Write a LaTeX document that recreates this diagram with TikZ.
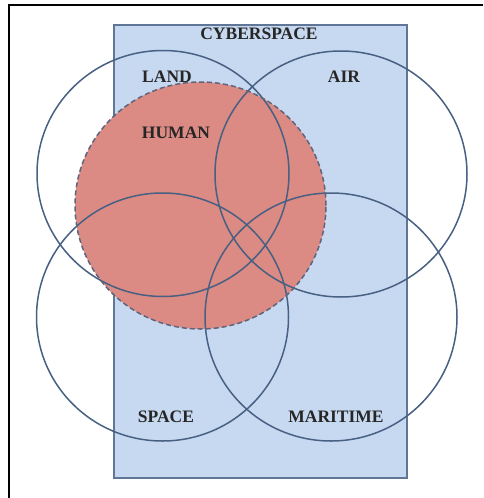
\documentclass[tikz,border=0pt]{standalone}
\usepackage{fontspec}
\setmainfont{Liberation Serif}
\usetikzlibrary{shapes.geometric}
\definecolor{cyberfill}{RGB}{198,217,240}
\definecolor{cyberedge}{RGB}{96,118,150}
\definecolor{ringline}{RGB}{72,96,130}
\definecolor{humanfill}{RGB}{220,138,132}
\definecolor{humanedge}{RGB}{95,100,125}
\tikzset{
  ring/.style={ellipse, draw=ringline, line width=1.5pt, minimum width=252pt, minimum height=246pt, inner sep=0pt},
  lbl/.style={font=\bfseries\fontsize{17.5}{18}\selectfont, text=black!85, inner sep=0pt}
}
\begin{document}
\begin{tikzpicture}[x=1pt,y=-1pt]
\useasboundingbox (0,0) rectangle (483,498);
\coordinate (fbl) at (9,498);
\coordinate (ftl) at (9,4.8);
\coordinate (ftr) at (483,4.8);
\draw[black, line width=2pt] (fbl) -- (ftl) -- (ftr);
\node[draw=cyberedge, fill=cyberfill, line width=1.4pt, minimum width=293pt, minimum height=453pt, inner sep=0pt] (cyber) at (260.5,251.5) {};
\node[ellipse, fill=humanfill, minimum width=251pt, minimum height=247pt, inner sep=0pt] (humanfillnode) at (200.5,205.5) {};
\node[ring] (land) at (163,173.5) {};
\node[ring] (air) at (341,174) {};
\node[ring, minimum height=248pt] (space) at (162.5,317) {};
\node[ring, minimum height=248pt] (maritime) at (331,317) {};
\node[ellipse, draw=humanedge, dash pattern=on 5pt off 3pt, line width=1.5pt, minimum width=251pt, minimum height=247pt, inner sep=0pt] (human) at (200.5,205.5) {};
\node[lbl] (tcyber) at (259,34) {CYBERSPACE};
\node[lbl] (tland) at (167,77) {LAND};
\node[lbl] (tair) at (344,77) {AIR};
\node[lbl] (thuman) at (176,133) {HUMAN};
\node[lbl] (tspace) at (166,417) {SPACE};
\node[lbl] (tmar) at (336,417) {MARITIME};
\end{tikzpicture}
\end{document}
